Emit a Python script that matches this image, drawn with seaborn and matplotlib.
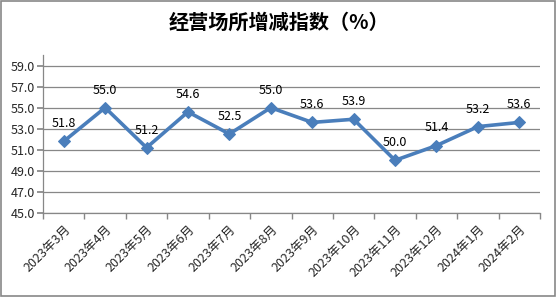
import matplotlib
matplotlib.use("Agg")
import matplotlib.pyplot as plt
import seaborn as sns
import pandas as pd
from matplotlib.patches import Rectangle

months = ["2023年3月", "2023年4月", "2023年5月", "2023年6月", "2023年7月", "2023年8月",
          "2023年9月", "2023年10月", "2023年11月", "2023年12月", "2024年1月", "2024年2月"]
values = [51.8, 55.0, 51.2, 54.6, 52.5, 55.0, 53.6, 53.9, 50.0, 51.4, 53.2, 53.6]
yticks = [45.0, 47.0, 49.0, 51.0, 53.0, 55.0, 57.0, 59.0]
title = "经营场所增减指数（%）"

sns.set_theme(style="white")
plt.rcParams['font.family'] = ['Noto Sans CJK SC', 'DejaVu Sans']

df = pd.DataFrame({"month": months, "value": values})
df["x"] = range(len(months))

fig = plt.figure(figsize=(5.57, 2.97), dpi=100)
ax = fig.add_axes([43/557, 1-213/297, (540-43)/557, (213-55)/297])

for y in yticks:
    ax.axhline(y, color="#878787", lw=0.9, zorder=0)

sns.lineplot(data=df, x="x", y="value", ax=ax, color="#4A7EBB", lw=2.6,
             marker="D", markersize=6, markeredgecolor="#4A7EBB", zorder=3)

for xi, v in zip(df["x"], values):
    ax.annotate(f"{v:.1f}", (xi, v), xytext=(0, 8), textcoords="offset points",
                ha="center", va="bottom", fontsize=9, color="#000000")

ax.set_xlim(-0.5, len(months) - 0.5)
ax.set_ylim(45, 60)
ax.set_yticks(yticks)
ax.set_yticklabels([f"{y:.1f}" for y in yticks], fontsize=9)
ax.set_xticks(df["x"])
ax.set_xticklabels(months, rotation=45, ha="right", rotation_mode="anchor", fontsize=9)
ax.set_xticks([i - 0.5 for i in range(len(months) + 1)], minor=True)
ax.tick_params(axis="x", which="major", length=0, pad=7)
ax.tick_params(axis="x", which="minor", length=4, color="#878787", direction="out", bottom=True)
ax.tick_params(axis="y", length=4, color="#878787", direction="out", left=True, pad=2)
ax.set_xlabel("")
ax.set_ylabel("")

for s in ["top", "right"]:
    ax.spines[s].set_visible(False)
for s in ["left", "bottom"]:
    ax.spines[s].set_color("#878787")
    ax.spines[s].set_linewidth(0.9)

fig.text(0.5, 1-22/297, title, ha="center", va="center", fontsize=14.5, fontweight="bold", color="#000000")
fig.patches.append(Rectangle((0.002, 0.004), 0.995, 0.992, transform=fig.transFigure,
                             fill=False, edgecolor="#878787", lw=1.2))

fig.savefig("out.png", dpi=100)
